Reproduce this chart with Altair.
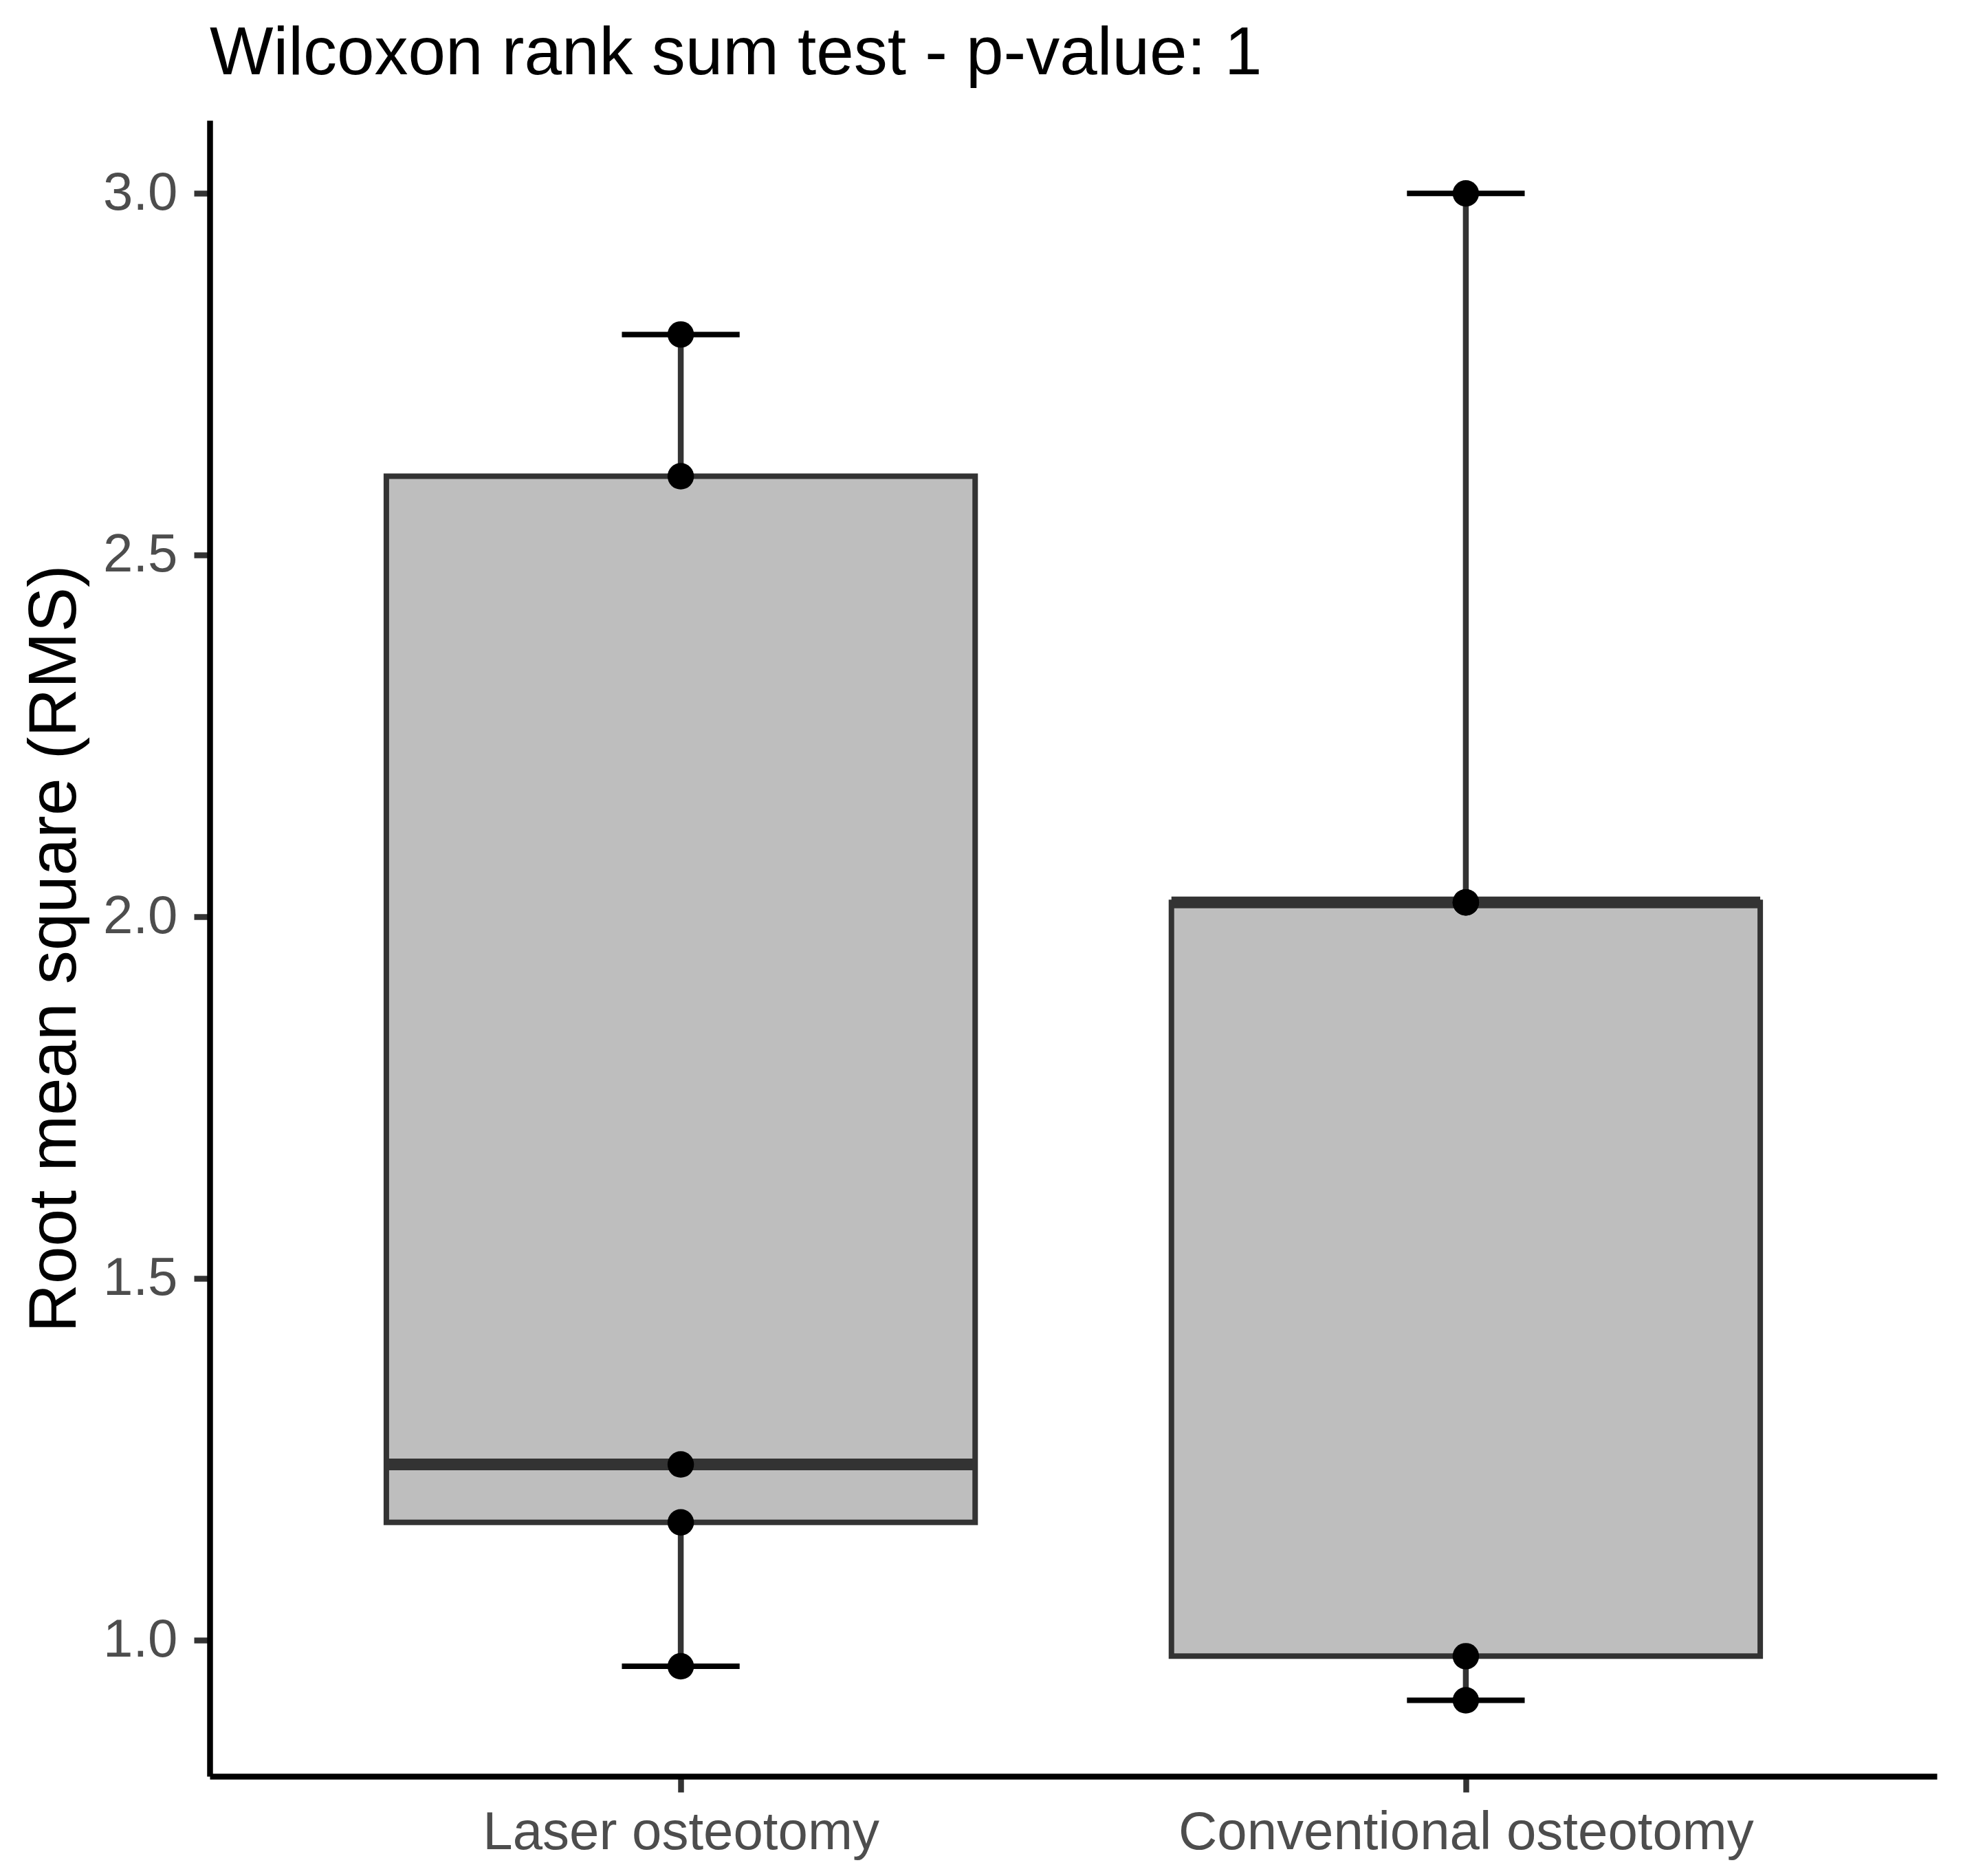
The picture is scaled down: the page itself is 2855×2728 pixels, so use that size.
import altair as alt
import numpy as np
import pandas as pd

# ---- data ----
groups = ["Laser osteotomy", "Conventional osteotomy"]
laser_rms = [0.964, 1.163, 1.243, 2.609, 2.805]
conventional_rms = [0.917, 0.978, 2.020, 2.020, 3.000]
y_ticks = [1.0, 1.5, 2.0, 2.5, 3.0]
title_text = "Wilcoxon rank sum test - p-value: 1"
y_title = "Root mean square (RMS)"

values = [laser_rms, conventional_rms]
BOX_HALF = 0.375
CAP_HALF = 0.075

rows = []
stats = []
caps = []
for i, (g, vals) in enumerate(zip(groups, values)):
    pos = i + 1
    for v in vals:
        rows.append({"group": g, "pos": pos, "value": v})
    q1, med, q3 = np.percentile(vals, [25, 50, 75])
    iqr = q3 - q1
    lo = min(v for v in vals if v >= q1 - 1.5 * iqr)
    hi = max(v for v in vals if v <= q3 + 1.5 * iqr)
    stats.append({"group": g, "pos": pos, "q1": q1, "med": med, "q3": q3,
                  "lo": lo, "hi": hi, "left": pos - BOX_HALF, "right": pos + BOX_HALF})
    for end in (lo, hi):
        caps.append({"pos": pos, "y": end, "cl": pos - CAP_HALF, "cr": pos + CAP_HALF})

points = pd.DataFrame(rows)
box = pd.DataFrame(stats)
cap_df = pd.DataFrame(caps)

label_expr = " : ".join(
    [f"datum.value == {i + 1} ? '{g}'" for i, g in enumerate(groups)]
) + " : ''"

FONT = "Liberation Sans"
x_scale = alt.Scale(domain=[0.4, 2.6], nice=False, zero=False)
y_scale = alt.Scale(domain=[0.812, 3.101], nice=False, zero=False)

x_axis = alt.Axis(values=[1, 2], labelExpr=label_expr, title=None, grid=False,
                  labelFont=FONT, labelFontSize=78, labelColor="#4D4D4D",
                  labelBaseline="alphabetic", labelPadding=82, labelLimit=0,
                  labelFlush=False, labelOverlap=False,
                  domainColor="black", domainWidth=8.5,
                  tickColor="#333333", tickWidth=8.5, tickSize=23)
y_axis = alt.Axis(values=y_ticks, format=".1f", title=y_title, grid=False,
                  labelFont=FONT, labelFontSize=78, labelColor="#4D4D4D",
                  labelPadding=24, labelBaseline="middle", labelLimit=0,
                  labelFlush=False, labelOverlap=False,
                  domainColor="black", domainWidth=8.5,
                  tickColor="#333333", tickWidth=8.5, tickSize=23,
                  titleFont=FONT, titleFontSize=98, titleColor="black",
                  titleFontWeight="normal", titleAngle=270,
                  titleX=-196, titleY=1204, titleAlign="center",
                  titleBaseline="alphabetic")

base_x = alt.X("pos:Q", scale=x_scale, axis=x_axis)

cap_layer = alt.Chart(cap_df).mark_rule(color="black", strokeWidth=8).encode(
    x=alt.X("cl:Q", scale=x_scale, axis=x_axis),
    x2="cr:Q",
    y=alt.Y("y:Q", scale=y_scale, axis=y_axis),
)
whisker_layer = alt.Chart(box).mark_rule(color="#333333", strokeWidth=8.5).encode(
    x=base_x,
    y=alt.Y("lo:Q", scale=y_scale, axis=y_axis),
    y2="hi:Q",
)
box_layer = alt.Chart(box).mark_rect(fill="#BEBEBE", stroke="#333333", strokeWidth=8).encode(
    x=alt.X("left:Q", scale=x_scale, axis=x_axis),
    x2="right:Q",
    y=alt.Y("q1:Q", scale=y_scale, axis=y_axis),
    y2="q3:Q",
)
median_layer = alt.Chart(box).mark_rule(color="#333333", strokeWidth=17).encode(
    x=alt.X("left:Q", scale=x_scale, axis=x_axis),
    x2="right:Q",
    y=alt.Y("med:Q", scale=y_scale, axis=y_axis),
)
point_layer = alt.Chart(points).mark_circle(color="black", size=1480, opacity=1).encode(
    x=base_x,
    y=alt.Y("value:Q", scale=y_scale, axis=y_axis),
)

chart = alt.layer(cap_layer, whisker_layer, box_layer, median_layer, point_layer).properties(
    width=2512,
    height=2408,
    view=alt.ViewBackground(stroke="transparent", strokeWidth=0),
    title=alt.TitleParams(text=title_text, anchor="start", frame="group",
                          font=FONT, fontSize=98, fontWeight="normal",
                          color="black", baseline="alphabetic", offset=67, dy=98),
    autosize=alt.AutoSizeParams(type="none"),
    padding={"left": 297, "top": 167, "right": 30, "bottom": 137},
).configure_view(strokeWidth=0, stroke="transparent").configure(background="white")

chart.save("out.html", embed_options={"renderer": "svg", "actions": False})
